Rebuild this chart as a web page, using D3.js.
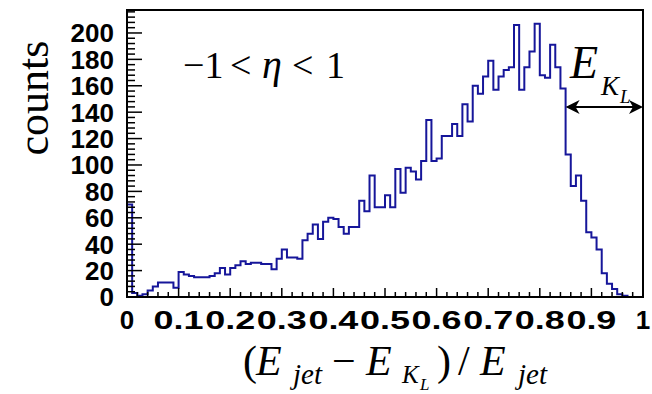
<!DOCTYPE html>
<html>
<head>
<meta charset="utf-8">
<script src="https://cdn.jsdelivr.net/npm/d3@7"></script>
<style>
  html, body { margin: 0; padding: 0; background: #fff; }
  #chart { width: 652px; height: 394px; }
</style>
</head>
<body>
<div id="chart"></div>
<script>
// bin width 0.01 from 0 to 1
const binEdges = [0, 1];
const counts = [
  70, 3, 1, 2, 5, 8, 11, 11, 11, 7,
  19, 17, 16, 15, 15, 15, 16, 18, 22, 17,
  22, 24, 27, 25, 26, 26, 25, 25, 21, 29,
  36, 30, 30, 29, 43, 48, 55, 44, 57, 60,
  59, 53, 48, 53, 53, 73, 65, 92, 68, 68,
  77, 68, 97, 79, 98, 95, 89, 103, 134, 103,
  105, 122, 122, 131, 122, 146, 133, 160, 154, 167,
  179, 157, 167, 172, 174, 206, 157, 174, 186, 207,
  168, 166, 191, 174, 158, 108, 84, 92, 73, 49,
  45, 36, 18, 10, 6, 2, 1, 0, 0, 0
];
const yTicks = [0, 20, 40, 60, 80, 100, 120, 140, 160, 180, 200];
const xTicks = [0, 0.1, 0.2, 0.3, 0.4, 0.5, 0.6, 0.7, 0.8, 0.9, 1];
const xTickLabels = ["0", "0.1", "0.2", "0.3", "0.4", "0.5", "0.6", "0.7", "0.8", "0.9", "1"];
const yMax = 217.4;
const arrowRange = [0.85, 1.0];
const arrowCount = 144;

const width = 652, height = 394;
const margin = { left: 127, right: 9, top: 10, bottom: 97 };

const svg = d3.select('#chart')
    .append('svg')
    .attr('width', width)
    .attr('height', height);

const x = d3.scaleLinear().domain(binEdges).range([margin.left, width - margin.right]);
const y = d3.scaleLinear().domain([0, yMax]).range([height - margin.bottom, margin.top]);

const nb = counts.length;
const bw = (binEdges[1] - binEdges[0]) / nb;

// histogram outline
const pts = [[0, 0]];
counts.forEach((c, i) => pts.push([binEdges[0] + i * bw, c]));
pts.push([binEdges[1], counts[nb - 1]]);
pts.push([binEdges[1], 0]);

const line = d3.line()
    .x(d => x(d[0]))
    .y(d => y(d[1]))
    .curve(d3.curveStepAfter);

svg.append('path')
    .datum(pts)
    .attr('d', line)
    .attr('fill', 'none')
    .attr('stroke', '#16169a')
    .attr('stroke-width', 2);

// ticks (inside, ROOT style)
const yMinor = d3.range(0, yMax, 4);
svg.append('g').selectAll('line')
    .data(yMinor)
    .join('line')
    .attr('x1', x(0))
    .attr('x2', d => x(0) + (d % 20 === 0 ? 15 : 8))
    .attr('y1', d => y(d))
    .attr('y2', d => y(d))
    .attr('stroke', '#000')
    .attr('stroke-width', 1.5);

const xMinor = d3.range(0, 51).map(i => i * 0.02);
svg.append('g').selectAll('line')
    .data(xMinor)
    .join('line')
    .attr('x1', d => x(d))
    .attr('x2', d => x(d))
    .attr('y1', y(0))
    .attr('y2', (d, i) => y(0) - (i % 5 === 0 ? 9 : 5))
    .attr('stroke', '#000')
    .attr('stroke-width', 1.5);

// frame
svg.append('rect')
    .attr('x', x(0))
    .attr('y', y(yMax))
    .attr('width', x(1) - x(0))
    .attr('height', y(0) - y(yMax))
    .attr('fill', 'none')
    .attr('stroke', '#000')
    .attr('stroke-width', 2);

// tick labels
svg.append('g').selectAll('text')
    .data(yTicks)
    .join('text')
    .attr('x', x(0) - 13)
    .attr('y', d => y(d))
    .attr('dy', '0.36em')
    .attr('text-anchor', 'end')
    .style('font-family', '"Liberation Sans", Arial, sans-serif')
    .style('font-weight', 'bold')
    .style('font-size', '26px')
    .text(d => d);

svg.append('g').selectAll('text')
    .data(xTicks)
    .join('text')
    .attr('x', d => x(d))
    .attr('y', 329)
    .attr('text-anchor', 'middle')
    .attr('textLength', (d, i) => xTickLabels[i].length > 1 ? 50 : null)
    .attr('lengthAdjust', 'spacingAndGlyphs')
    .style('font-family', '"Liberation Sans", Arial, sans-serif')
    .style('font-weight', 'bold')
    .style('font-size', '26px')
    .text((d, i) => xTickLabels[i]);

// axis titles
svg.append('text')
    .attr('transform', 'translate(48,98) rotate(-90)')
    .attr('text-anchor', 'middle')
    .style('font-family', '"Liberation Serif", "Times New Roman", serif')
    .style('font-size', '44px')
    .text('counts');

const serif = '"Liberation Serif", "Times New Roman", serif';
const xt = svg.append('text')
    .attr('y', 375)
    .style('font-family', serif)
    .style('font-size', '42px');
xt.append('tspan').attr('x', 243).text('(');
xt.append('tspan').attr('x', 256).style('font-style', 'italic').text('E');
xt.append('tspan').attr('x', 293).attr('dy', 9).style('font-style', 'italic').style('font-size', '29px').text('jet');
xt.append('tspan').attr('x', 332).attr('dy', -9).text('\u2212');
xt.append('tspan').attr('x', 366).style('font-style', 'italic').text('E');
xt.append('tspan').attr('x', 402).attr('dy', 8).style('font-style', 'italic').style('font-size', '25px').text('K');
xt.append('tspan').attr('x', 420).attr('dy', 7).style('font-style', 'italic').style('font-size', '17px').text('L');
xt.append('tspan').attr('x', 437).attr('dy', -15).text(')');
xt.append('tspan').attr('x', 458).text('/');
xt.append('tspan').attr('x', 480).style('font-style', 'italic').text('E');
xt.append('tspan').attr('x', 518).attr('dy', 9).style('font-style', 'italic').style('font-size', '29px').text('jet');

// eta range label
const et = svg.append('text')
    .attr('y', 78)
    .style('font-family', serif)
    .style('font-size', '38px');
et.append('tspan').attr('x', 183).text('\u22121');
et.append('tspan').attr('x', 230).text('<');
et.append('tspan').attr('x', 262).style('font-style', 'italic').style('font-size', '40px').text('\u03b7');
et.append('tspan').attr('x', 292).text('<');
et.append('tspan').attr('x', 326).text('1');

// E_KL arrow
const ay = y(arrowCount);
const ax0 = x(arrowRange[0]), ax1 = x(arrowRange[1]);
svg.append('line')
    .attr('x1', ax0 + 2).attr('x2', ax1 - 2)
    .attr('y1', ay).attr('y2', ay)
    .attr('stroke', '#000')
    .attr('stroke-width', 2);
const head = (tx, dir) => `M${tx},${ay} L${tx + dir * 14},${ay - 7} L${tx + dir * 10},${ay} L${tx + dir * 14},${ay + 7} Z`;
svg.append('path').attr('d', head(ax0, 1)).attr('fill', '#000');
svg.append('path').attr('d', head(ax1, -1)).attr('fill', '#000');

const ek = svg.append('text')
    .attr('x', 570)
    .attr('y', 78)
    .style('font-family', serif)
    .style('font-style', 'italic')
    .style('font-size', '46px');
ek.append('tspan').text('E');
ek.append('tspan').attr('x', 601).attr('dy', 17).style('font-size', '27px').text('K');
ek.append('tspan').attr('x', 620).attr('dy', 8).style('font-size', '19px').text('L');
</script>
</body>
</html>
